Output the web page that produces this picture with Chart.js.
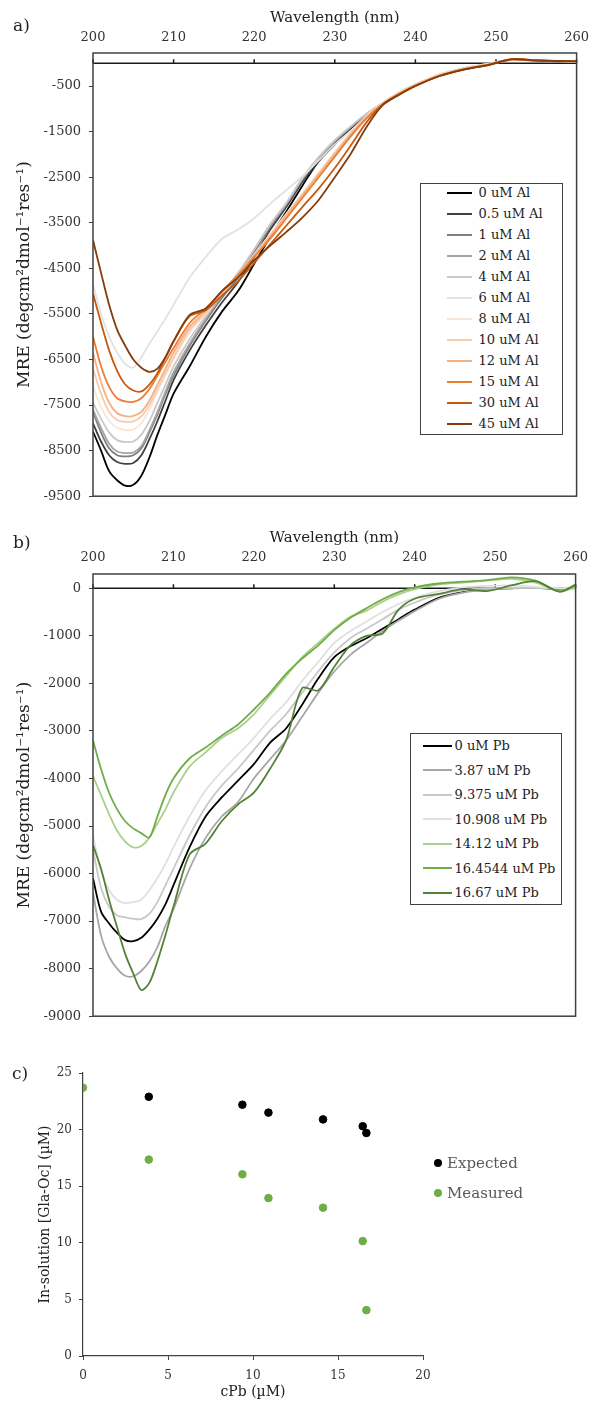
<!DOCTYPE html>
<html>
<head>
<meta charset="utf-8">
<title>CD spectra</title>
<script src="https://cdn.jsdelivr.net/npm/chart.js@4.4.0/dist/chart.umd.min.js"></script>
<style>
body { margin: 0; background: #fff; width: 597px; height: 1412px; position: relative; overflow: hidden; font-family: "DejaVu Serif", serif; color: #222; }
canvas { position: absolute; left: 0; }
.tag { position: absolute; font-size: 17px; line-height: 20px; }
.legend { position: absolute; border: 1.5px solid #404040; background: #fff; box-sizing: border-box; }
.row { position: absolute; height: 20px; display: flex; align-items: center; font-size: 13px; white-space: nowrap; color: #222; }
.swatch { height: 2px; margin-right: 4px; }
.dot { width: 8px; height: 8px; border-radius: 50%; margin-right: 5px; }
#legC .row { font-size: 15px; color: #595959; }
</style>
</head>
<body>
<canvas id="chartA" width="597" height="512" style="top:0"></canvas>
<canvas id="chartB" width="597" height="512" style="top:520px"></canvas>
<canvas id="chartC" width="597" height="372" style="top:1040px"></canvas>
<div class="tag" style="left:13px;top:15px">a)</div>
<div class="tag" style="left:13px;top:532px">b)</div>
<div class="tag" style="left:12px;top:1063px">c)</div>
<div class="legend" id="legA" style="left:420px;top:183px;width:143px;height:252px"></div>
<div class="legend" id="legB" style="left:410px;top:733px;width:152px;height:172px"></div>
<div id="legC" style="position:absolute;left:0;top:0"></div>
<script>
// wavelength grid (nm) used by both CD panels
let wl = [200,201,202,203,204,205,206,207,208,209,210,212,214,216,218,220,222,224,226,228,230,232,234,236,238,240,243,246,249,252,255,258,260];

// panel a: Al titration, MRE values
let alNames = ["0 uM Al","0.5 uM Al","1 uM Al","2 uM Al","4 uM Al","6 uM Al","8 uM Al","10 uM Al","12 uM Al","15 uM Al","30 uM Al","45 uM Al"];
let alColors = ["#000000","#404040","#7f7f7f","#a5a5a5","#c9c9c9","#e2e2e2","#fbe5d6","#f8cbad","#f4b183","#ed7d31","#c55a11","#843c0c"];
let al0 = [-8080,-8500,-8950,-9150,-9270,-9250,-9050,-8650,-8150,-7700,-7250,-6650,-6000,-5450,-5000,-4400,-3800,-3250,-2680,-2150,-1780,-1430,-1150,-900,-680,-490,-270,-130,-30,80,60,40,50];
let al05 = [-7900,-8300,-8600,-8750,-8790,-8770,-8600,-8250,-7850,-7400,-6950,-6300,-5750,-5250,-4800,-4250,-3650,-3150,-2600,-2150,-1750,-1420,-1130,-880,-660,-480,-260,-120,-20,85,55,45,40];
let al1 = [-7650,-8100,-8450,-8600,-8625,-8600,-8450,-8100,-7700,-7250,-6850,-6200,-5650,-5150,-4700,-4150,-3580,-3100,-2550,-2100,-1720,-1400,-1110,-870,-650,-470,-250,-110,-20,80,60,40,45];
let al2 = [-7600,-8000,-8350,-8520,-8555,-8540,-8400,-8050,-7650,-7200,-6780,-6150,-5600,-5100,-4650,-4100,-3550,-3080,-2530,-2080,-1700,-1390,-1100,-870,-650,-470,-250,-120,-30,75,55,45,35];
let al4 = [-7450,-7800,-8100,-8270,-8310,-8300,-8150,-7850,-7450,-7050,-6650,-6050,-5550,-5050,-4600,-4080,-3530,-3060,-2510,-2060,-1690,-1380,-1100,-860,-640,-470,-250,-110,-20,80,60,50,40];
let al6 = [-4850,-5500,-6000,-6350,-6600,-6675,-6450,-6150,-5880,-5600,-5300,-4700,-4250,-3850,-3650,-3400,-3080,-2780,-2480,-2130,-1780,-1480,-1150,-860,-640,-460,-240,-110,-10,85,65,50,45];
let al8 = [-7100,-7550,-7850,-8000,-8050,-8040,-7900,-7600,-7200,-6850,-6500,-5900,-5500,-5050,-4650,-4200,-3750,-3300,-2850,-2400,-1950,-1520,-1150,-870,-650,-480,-260,-120,-20,80,60,45,40];
let al10 = [-6700,-7250,-7650,-7830,-7870,-7860,-7750,-7500,-7150,-6800,-6450,-5850,-5470,-5050,-4650,-4230,-3780,-3320,-2870,-2420,-1970,-1540,-1160,-870,-660,-480,-260,-120,-30,80,55,40,50];
let al12 = [-6350,-7000,-7450,-7680,-7745,-7740,-7650,-7400,-7050,-6700,-6350,-5780,-5430,-5020,-4640,-4220,-3790,-3350,-2900,-2450,-2000,-1560,-1170,-880,-660,-480,-270,-130,-30,85,60,45,40];
let al15 = [-6000,-6650,-7100,-7350,-7420,-7430,-7350,-7150,-6850,-6550,-6250,-5700,-5380,-5000,-4650,-4250,-3850,-3400,-2950,-2500,-2050,-1600,-1200,-890,-670,-490,-270,-130,-30,90,60,50,45];
let al30 = [-5050,-5700,-6300,-6750,-7050,-7180,-7200,-7050,-6800,-6450,-6100,-5550,-5420,-5100,-4780,-4380,-3970,-3560,-3150,-2750,-2300,-1800,-1280,-900,-680,-500,-280,-140,-40,90,65,45,50];
let al45 = [-3880,-4600,-5300,-5850,-6200,-6500,-6680,-6770,-6700,-6450,-6100,-5520,-5380,-5000,-4700,-4320,-4000,-3700,-3380,-3000,-2500,-1980,-1380,-910,-690,-500,-280,-140,-40,85,60,50,40];
let yTicksA = [-500,-1500,-2500,-3500,-4500,-5500,-6500,-7500,-8500,-9500];

// panel b: Pb titration, MRE values
let pbNames = ["0 uM Pb","3.87 uM Pb","9.375 uM Pb","10.908 uM Pb","14.12 uM Pb","16.4544 uM Pb","16.67 uM Pb"];
let pbColors = ["#000000","#a6a6a6","#c8c8c8","#e0e0e0","#a9d18e","#70ad47","#548235"];
let pb0 = [-6100,-6800,-7050,-7250,-7400,-7420,-7350,-7180,-6950,-6650,-6250,-5450,-4800,-4400,-4050,-3700,-3250,-2950,-2450,-1900,-1450,-1220,-1050,-850,-650,-450,-200,-80,-20,0,10,-10,20];
let pb387 = [-6400,-7300,-7750,-8000,-8150,-8160,-8050,-7850,-7550,-7100,-6750,-5900,-5250,-4800,-4500,-4000,-3600,-3200,-2700,-2200,-1750,-1400,-1150,-900,-680,-480,-220,-90,-30,0,10,0,0];
let pb9375 = [-5500,-6300,-6700,-6880,-6920,-6950,-6960,-6850,-6600,-6250,-5900,-5200,-4600,-4150,-3800,-3400,-3000,-2650,-2200,-1750,-1350,-1050,-850,-650,-450,-300,-130,-40,0,10,10,0,0];
let pb10908 = [-5200,-5950,-6350,-6550,-6620,-6600,-6550,-6350,-6100,-5800,-5450,-4800,-4250,-3850,-3500,-3150,-2750,-2400,-1950,-1550,-1150,-900,-700,-500,-330,-200,-60,20,50,60,30,0,10];
let pb1412 = [-3950,-4350,-4750,-5100,-5330,-5450,-5420,-5250,-4950,-4650,-4300,-3750,-3450,-3150,-2950,-2650,-2250,-1850,-1450,-1150,-850,-600,-470,-280,-130,-20,80,120,160,200,120,-60,20];
let pb164544 = [-3200,-3800,-4300,-4650,-4900,-5050,-5150,-5240,-4800,-4350,-4000,-3580,-3350,-3100,-2870,-2550,-2200,-1800,-1480,-1200,-880,-620,-420,-230,-80,20,100,140,170,230,160,-70,60];
let pb1667 = [-5400,-5900,-6550,-7130,-7690,-8100,-8450,-8300,-7850,-7300,-6700,-5600,-5370,-4900,-4550,-4300,-3800,-3200,-2100,-2150,-1650,-1200,-1000,-950,-450,-220,-120,-20,-60,60,150,-70,80];
let yTicksB = [0,-1000,-2000,-3000,-4000,-5000,-6000,-7000,-8000,-9000];

// panel c: in-solution Gla-Oc vs added Pb
let cPb = [0, 3.87, 9.375, 10.908, 14.12, 16.4544, 16.67];
let expected = [null, 22.9, 22.2, 21.5, 20.9, 20.3, 19.7];
let measured = [23.7, 17.35, 16.05, 13.95, 13.1, 10.15, 4.05];

Chart.defaults.font.family = '"DejaVu Serif", serif';
Chart.defaults.color = "#333";

// box around the plot plus the x axis that crosses at MRE = 0
const frame = {
    id: "frame",
    beforeDatasetsDraw(chart) {
        let ctx = chart.ctx;
        let a = chart.chartArea;
        let x = chart.scales.x;
        let y0 = chart.scales.y.getPixelForValue(0);
        ctx.save();
        ctx.strokeStyle = "#1a1a1a";
        ctx.lineWidth = 1.5;
        ctx.beginPath();
        ctx.moveTo(a.left, y0);
        ctx.lineTo(a.right, y0);
        x.ticks.forEach(t => {
            let px = x.getPixelForValue(t.value);
            ctx.moveTo(px, y0);
            ctx.lineTo(px, y0 - 4);
        });
        ctx.stroke();
        ctx.restore();
    },
    afterDatasetsDraw(chart) {
        let ctx = chart.ctx;
        let a = chart.chartArea;
        ctx.save();
        ctx.strokeStyle = "#404040";
        ctx.lineWidth = 1.5;
        ctx.strokeRect(a.left, a.top, a.right - a.left, a.bottom - a.top);
        ctx.restore();
    }
};

function spectrum(id, series, names, colors, yTicks, yMin, yMax, top, padBottom, tickPad) {
    let datasets = series.map((s, i) => ({
        label: names[i],
        data: s.map((v, j) => ({ x: wl[j], y: v })),
        borderColor: colors[i],
        borderWidth: 1.8,
        pointRadius: 0,
        tension: 0.3,
        order: -i
    }));
    return new Chart(id, {
        type: "line",
        data: { datasets: datasets },
        options: {
            responsive: false,
            animation: false,
            events: [],
            layout: { padding: { top: 0, right: 14, bottom: padBottom, left: 0 } },
            plugins: { legend: { display: false }, tooltip: { enabled: false } },
            scales: {
                x: {
                    type: "linear", position: "top", min: 200, max: 260,
                    ticks: { stepSize: 10, padding: tickPad, font: { size: 13 } },
                    grid: { display: false, drawTicks: false },
                    border: { display: false },
                    title: { display: true, text: "Wavelength (nm)", color: "#222", font: { size: 15 }, padding: { top: 9, bottom: 0 } },
                    afterFit: s => { s.height = top; }
                },
                y: {
                    min: yMin, max: yMax,
                    afterBuildTicks: s => { s.ticks = yTicks.map(v => ({ value: v })); },
                    ticks: { padding: 8, font: { size: 13 }, callback: v => String(v) },
                    grid: { drawOnChartArea: false, tickLength: 4, color: "#404040" },
                    border: { display: false },
                    title: { display: true, text: "MRE (degcm²dmol⁻¹res⁻¹)", color: "#222", font: { size: 17 }, padding: { top: 14, bottom: 0 } },
                    afterFit: s => { s.width = 93; }
                }
            }
        },
        plugins: [frame]
    });
}

function htmlLegend(boxId, chart, firstY, step, left, swWidth, gap) {
    let box = document.getElementById(boxId);
    chart.data.datasets.forEach((ds, i) => {
        let row = document.createElement("div");
        row.className = "row";
        row.style.top = (firstY + i * step - 10) + "px";
        row.style.left = left + "px";
        let sw = document.createElement("span");
        sw.className = "swatch";
        sw.style.width = swWidth + "px";
        sw.style.marginRight = gap + "px";
        sw.style.background = ds.borderColor;
        let tx = document.createElement("span");
        tx.textContent = ds.label;
        row.appendChild(sw);
        row.appendChild(tx);
        box.appendChild(row);
    });
}

let chartA = spectrum("chartA", [al0, al05, al1, al2, al4, al6, al8, al10, al12, al15, al30, al45],
    alNames, alColors, yTicksA, -9500, 225, 53, 10, 8);
let chartB = spectrum("chartB", [pb0, pb387, pb9375, pb10908, pb1412, pb164544, pb1667],
    pbNames, pbColors, yTicksB, -9000, 300, 54, 9, 9);

htmlLegend("legA", chartA, 8.5, 21, 25.5, 25, 7);
htmlLegend("legB", chartB, 11.5, 24.5, 11.5, 29, 3);

let axisC = {
    grid: { drawOnChartArea: false, tickLength: 4, color: "#404040" },
    border: { display: true, color: "#404040", width: 1.2 }
};

let chartC = new Chart("chartC", {
    type: "scatter",
    data: {
        datasets: [
            {
                label: "Expected",
                data: cPb.map((x, i) => ({ x: x, y: expected[i] })).filter(p => p.y !== null),
                backgroundColor: "#000000", borderColor: "#000000", pointRadius: 3.8
            },
            {
                label: "Measured",
                data: cPb.map((x, i) => ({ x: x, y: measured[i] })),
                backgroundColor: "#70ad47", borderColor: "#70ad47", pointRadius: 3.8
            }
        ]
    },
    options: {
        responsive: false,
        animation: false,
        events: [],
        layout: { padding: { top: 33, right: 174, bottom: 0, left: 0 } },
        plugins: { legend: { display: false }, tooltip: { enabled: false } },
        scales: {
            x: {
                type: "linear", min: 0, max: 20,
                ticks: { stepSize: 5, padding: 9, font: { size: 12 } },
                grid: axisC.grid, border: axisC.border,
                title: { display: true, text: "cPb (µM)", color: "#222", font: { size: 14 }, padding: { top: 0, bottom: 11 } },
                afterFit: s => { s.height = 56; }
            },
            y: {
                min: 0, max: 25,
                ticks: { stepSize: 5, padding: 7, font: { size: 12 } },
                grid: axisC.grid, border: axisC.border,
                title: { display: true, text: "In-solution [Gla-Oc] (µM)", color: "#222", font: { size: 14 }, padding: { top: 37, bottom: 0 } },
                afterFit: s => { s.width = 83; }
            }
        }
    }
});

// scatter legend beside the plot
let legC = document.getElementById("legC");
chartC.data.datasets.forEach((ds, i) => {
    let row = document.createElement("div");
    row.className = "row";
    row.style.left = "434px";
    row.style.top = (1163 + i * 30 - 10) + "px";
    let dot = document.createElement("span");
    dot.className = "dot";
    dot.style.background = ds.backgroundColor;
    let tx = document.createElement("span");
    tx.textContent = ds.label;
    row.appendChild(dot);
    row.appendChild(tx);
    legC.appendChild(row);
});
</script>
</body>
</html>
